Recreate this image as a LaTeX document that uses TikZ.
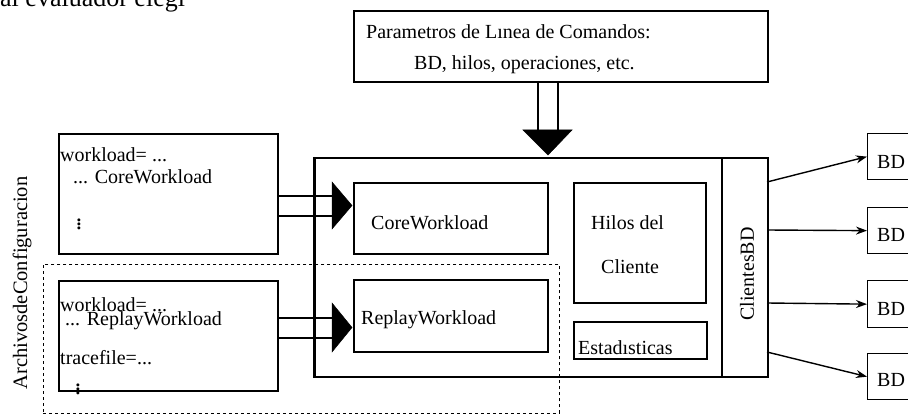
\documentclass[tikz,border=0pt]{standalone}
\usepackage{fontspec}
\setmainfont{Liberation Serif}
\usetikzlibrary{arrows.meta,calc}
\begin{document}
\begin{tikzpicture}[x=1pt,y=-1pt,
  box/.style={draw,line width=1.6pt,inner sep=0pt,anchor=north west},
  thinbox/.style={draw,line width=1.3pt,inner sep=0pt,anchor=north west},
  txt/.style={inner sep=0pt,anchor=base west,font=\fontsize{20}{20}\selectfont},
  dots/.style={inner sep=0pt,font=\fontsize{25}{25}\selectfont},
  shaft/.style={line width=1.6pt},
  head/.style={fill=black,draw=black,line width=0.5pt},
  conn/.style={line width=1.4pt,-{Stealth[length=11pt,width=8pt]}}
]
\useasboundingbox (0,0) rectangle (908,414);
\clip (0,0) rectangle (908,414);
% cut off text at the top
\node[txt,font=\fontsize{26}{26}\selectfont] (cut) at (0,6.5) {al evaluador elegi};
% boxes
\node[box,minimum width=414pt,minimum height=71pt] (top) at (353,10) {};
\node[box,minimum width=219pt,minimum height=120pt] (lt) at (58,133) {};
\node[box,minimum width=219pt,minimum height=110pt] (lb) at (58,280) {};
\node[draw,dashed,line width=0.9pt,inner sep=0pt,anchor=north west,minimum width=516pt,minimum height=149pt] (cfg) at (43,264) {};
\node[box,minimum width=453pt,minimum height=219pt] (main) at (314,157) {};
\node[box,minimum width=46pt,minimum height=219pt] (clients) at (721,157) {};
\node[box,minimum width=194pt,minimum height=71pt] (core) at (353,182) {};
\node[box,minimum width=194pt,minimum height=72pt] (replay) at (353,279) {};
\node[box,minimum width=132pt,minimum height=120pt] (hilos) at (573,182) {};
\node[box,minimum width=133pt,minimum height=37pt] (estad) at (573,321) {};
\node[thinbox,minimum width=60pt,minimum height=46pt] (bd1) at (867,133) {};
\node[thinbox,minimum width=60pt,minimum height=46pt] (bd2) at (867,207) {};
\node[thinbox,minimum width=60pt,minimum height=47pt] (bd3) at (867,280) {};
\node[thinbox,minimum width=60pt,minimum height=46pt] (bd4) at (867,353) {};
% texts
\node[txt] (t1) at (366,39) {Parametros de Lınea de Comandos:};
\node[txt] (t2) at (414,70) {BD, hilos, operaciones, etc.};
\node[txt] (lt1) at (60,162) {workload= ...};
\node[txt] (lt2) at (73,184) {... CoreWorkload};
\node[dots] (lt3) at (79,221) {$\vdots$};
\node[txt] (lb1) at (60,312) {workload= ...};
\node[txt] (lb2) at (65,325) {... ReplayWorkload};
\node[txt] (lb3) at (60,364) {tracefile=...};
\node[dots] (lb4) at (78,386) {$\vdots$};
\node[txt] (tc) at (371,230) {CoreWorkload};
\node[txt] (tr) at (361,324) {ReplayWorkload};
\node[txt] (th1) at (591,230) {Hilos del};
\node[txt] (th2) at (601,273) {Cliente};
\node[txt] (te) at (578,354) {Estadısticas};
\node[inner sep=0pt,rotate=90,font=\fontsize{20}{20}\selectfont] (tcl) at (747,274) {ClientesBD};
\node[inner sep=0pt,rotate=90,font=\fontsize{20.5}{20.5}\selectfont] (tac) at (22,283) {ArchivosdeConfiguracion};
\node[txt] (b1) at (877,169) {BD};
\node[txt] (b2) at (877,242) {BD};
\node[txt] (b3) at (877,315) {BD};
\node[txt] (b4) at (877,386) {BD};
% block arrow from top box
\coordinate (ta) at (538,81);
\coordinate (tb) at (558,81);
\coordinate (tha) at (538,130);
\coordinate (thb) at (558,130);
\draw[shaft] (ta) -- (tha) (tb) -- (thb);
\draw[head] (523,130) -- (572,130) -- (548,155) -- cycle;
% block arrows from left boxes
\coordinate (la) at (277,196);
\coordinate (lb) at (277,216);
\draw[shaft] (la) -- (332,196) (lb) -- (332,216);
\draw[head] (332,182) -- (332,229) -- (352,205.5) -- cycle;
\coordinate (ra) at (277,318);
\coordinate (rb) at (277,338);
\draw[shaft] (ra) -- (332,318) (rb) -- (332,338);
\draw[head] (332,303) -- (332,352) -- (352,327.5) -- cycle;
% main box left edge over shafts
\draw[line width=1.6pt] (main.north west) -- (main.south west);
% connectors to BD
\coordinate (c1) at (767,182);
\coordinate (c2) at (767,230);
\coordinate (c3) at (767,303);
\coordinate (c4) at (767,352);
\draw[conn] (c1) -- (bd1.west);
\draw[conn] (c2) -- (bd2.west);
\draw[conn] (c3) -- (bd3.west);
\draw[conn] (c4) -- (bd4.west);
\end{tikzpicture}
\end{document}
